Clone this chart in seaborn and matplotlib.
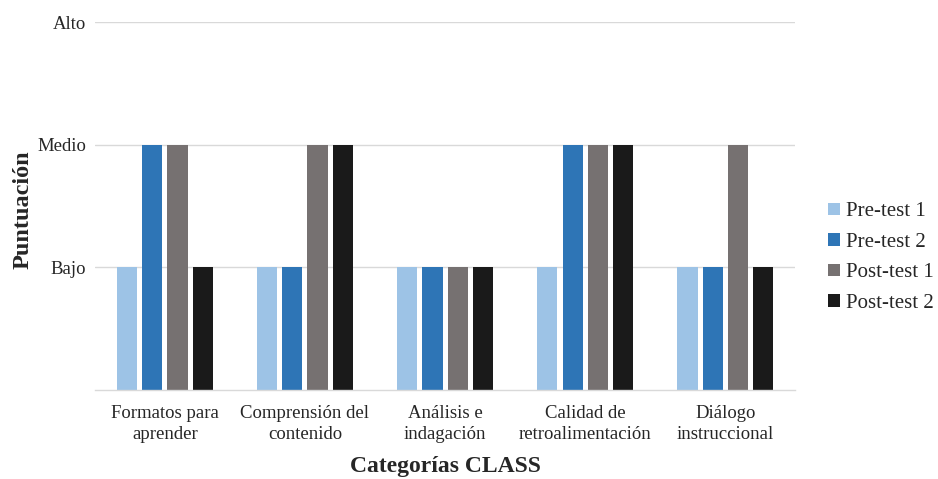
import matplotlib
matplotlib.use("Agg")
import matplotlib.pyplot as plt
import seaborn as sns
import pandas as pd

categories = [
    "Formatos para\naprender",
    "Comprensión del\ncontenido",
    "Análisis e\nindagación",
    "Calidad de\nretroalimentación",
    "Diálogo\ninstruccional",
]
series_names = ["Pre-test 1", "Pre-test 2", "Post-test 1", "Post-test 2"]
pre_test_1 = [1, 1, 1, 1, 1]
pre_test_2 = [2, 1, 1, 2, 1]
post_test_1 = [2, 2, 1, 2, 2]
post_test_2 = [1, 2, 1, 2, 1]
level_values = [1, 2, 3]
level_labels = ["Bajo", "Medio", "Alto"]
colors = ["#9DC3E6", "#2E75B6", "#767171", "#1A1A1A"]

rows = []
for name, vals in zip(series_names, [pre_test_1, pre_test_2, post_test_1, post_test_2]):
    for cat, v in zip(categories, vals):
        rows.append({"Categoría": cat, "Serie": name, "Puntuación": v})
df = pd.DataFrame(rows)

sns.set_theme(style="white")
plt.rcParams["font.family"] = ["Liberation Serif", "DejaVu Serif"]

fig = plt.figure(figsize=(9.38, 4.79), dpi=100)
ax = fig.add_axes([0.101, 0.186, 0.747, 0.768])

sns.barplot(data=df, x="Categoría", y="Puntuación", hue="Serie",
            hue_order=series_names, order=categories, palette=colors,
            width=0.72, gap=0.2, ax=ax, saturation=1, linewidth=0)

ax.set_ylim(0, 3)
ax.set_xlim(-0.5, len(categories) - 0.5)
ax.set_yticks(level_values)
ax.set_yticklabels(level_labels, fontsize=13.5)
ax.tick_params(axis="y", length=0, pad=6)
ax.tick_params(axis="x", length=0, pad=11, labelsize=13.5)
for lbl in ax.get_xticklabels():
    lbl.set_linespacing(1.3)
ax.yaxis.grid(True, color="#D9D9D9", linewidth=1)
ax.set_axisbelow(True)
for side in ["top", "right", "left"]:
    ax.spines[side].set_visible(False)
ax.spines["bottom"].set_color("#D9D9D9")
ax.spines["bottom"].set_linewidth(1)

ax.set_xlabel("Categorías CLASS", fontsize=17, fontweight="bold", labelpad=9)
ax.set_ylabel("Puntuación", fontsize=17.5, fontweight="bold")
ax.yaxis.set_label_coords(-0.088, 0.49)

handles, labels = ax.get_legend_handles_labels()
ax.legend(handles, labels, loc="center left", bbox_to_anchor=(1.02, 0.36),
          frameon=False, fontsize=15, handlelength=0.55, handleheight=0.55,
          handletextpad=0.3, labelspacing=0.55)

fig.savefig("out.png", dpi=100)
